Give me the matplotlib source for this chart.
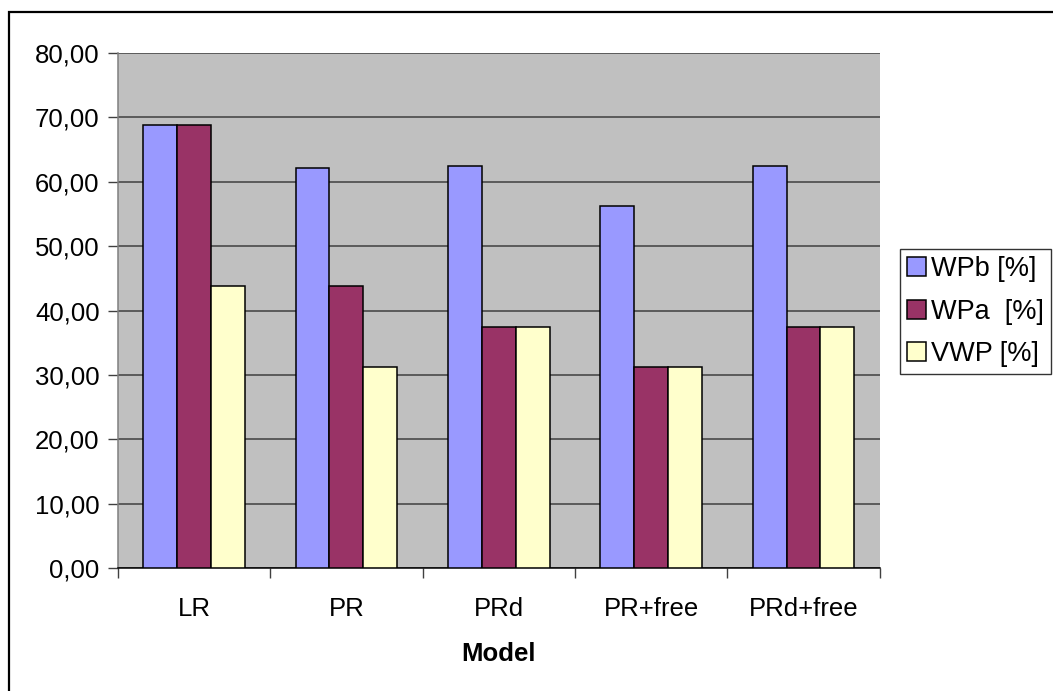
import matplotlib
matplotlib.use("Agg")
import matplotlib.pyplot as plt
import numpy as np
from matplotlib.patches import Rectangle
from matplotlib.ticker import FuncFormatter, MultipleLocator

plt.rcParams['font.family'] = ['Liberation Sans', 'DejaVu Sans']

# Ergebnisse je Modell
models = ["LR", "PR", "PRd", "PR+free", "PRd+free"]
wpb = [68.75, 62.20, 62.50, 56.25, 62.50]
wpa = [68.75, 43.75, 37.50, 31.25, 37.50]
vwp = [43.75, 31.25, 37.50, 31.25, 37.50]
series_names = ["WPb [%]", "WPa  [%]", "VWP [%]"]
colors = ["#9999FF", "#993366", "#FFFFCC"]

W, H = 1053, 691
fig = plt.figure(figsize=(W / 100, H / 100), dpi=100)
fig.patch.set_facecolor("white")

# Rahmen um das Diagramm (rechts/unten abgeschnitten)
fig.add_artist(Rectangle((8.5 / W, -0.2), 1.5, 1 - 12 / H + 0.2,
                         transform=fig.transFigure, fill=False,
                         edgecolor="black", linewidth=1.6, clip_on=False))

ax = fig.add_axes([117.7 / W, (H - 568) / H, 762 / W, 515 / H])
ax.set_facecolor("#C0C0C0")

x = np.arange(len(models))
bw = 1 / 4.5
for i, (vals, name, c) in enumerate(zip([wpb, wpa, vwp], series_names, colors)):
    ax.bar(x + (i - 1) * bw, vals, bw, color=c, edgecolor="black",
           linewidth=1.1, label=name, zorder=3)

ax.set_xlim(-0.5, len(models) - 0.5)
ax.set_ylim(0, 80)
ax.yaxis.set_major_locator(MultipleLocator(10))
ax.yaxis.set_major_formatter(FuncFormatter(lambda v, p: f"{v:.2f}".replace(".", ",")))
ax.grid(axis="y", color="#404040", linewidth=1.1, zorder=1)
ax.set_axisbelow(True)

ax.set_xticks(np.arange(len(models) + 1) - 0.5)
ax.set_xticklabels([])
ax.set_xticks(x, minor=True)
ax.set_xticklabels(models, minor=True)
ax.tick_params(axis="x", which="major", length=7, direction="out", color="#404040", width=1)
ax.tick_params(axis="x", which="minor", length=0, pad=21, labelsize=18.5)
ax.tick_params(axis="y", length=7, direction="out", color="#404040", width=1,
               labelsize=18.5, pad=6)

for s in ["top", "right"]:
    ax.spines[s].set_visible(False)
ax.spines["left"].set_color("#808080")
ax.spines["bottom"].set_color("black")
ax.spines["left"].set_linewidth(1.1)
ax.spines["bottom"].set_linewidth(1.1)

ax.set_xlabel("Model", fontsize=18.5, fontweight="bold", labelpad=15)

leg = fig.legend(loc="upper left", bbox_to_anchor=(900 / W, 1 - 249 / H),
                 fontsize=19.5, frameon=True, fancybox=False, edgecolor="black",
                 handlelength=0.7, handleheight=0.7, handletextpad=0.2,
                 borderpad=0.25, labelspacing=0.62, borderaxespad=0)
leg.get_frame().set_linewidth(1.0)

fig.savefig("out.png", dpi=100)
